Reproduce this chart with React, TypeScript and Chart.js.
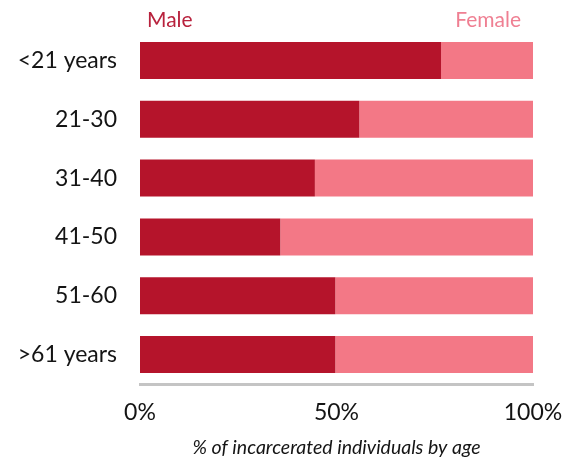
import React, { useEffect, useRef } from "react";
import { Chart, registerables } from "chart.js";

Chart.register(...registerables);

const categories = ["<21 years", "21-30", "31-40", "41-50", "51-60", ">61 years"];
const maleValues = [76.6, 55.8, 44.5, 35.7, 49.7, 49.7];
const femaleValues = [23.4, 44.2, 55.5, 64.3, 50.3, 50.3];
const xTickLabels: Record<number, string> = { 0: "0%", 50: "50%", 100: "100%" };
const seriesNames = ["Male", "Female"];
const axisTitle = "% of incarcerated individuals by age";

const MALE_COLOR = "#b5142b";
const FEMALE_COLOR = "#f37886";
const TEXT_COLOR = "#141414";
const FONT = "Lato, 'Open Sans', sans-serif";

const headerPlugin = {
  id: "header",
  afterDraw(chart: any) {
    const { ctx, chartArea } = chart;
    ctx.save();
    ctx.font = `21px ${FONT}`;
    ctx.textBaseline = "middle";
    ctx.fillStyle = "#b8223d";
    ctx.textAlign = "left";
    ctx.fillText(seriesNames[0], chartArea.left + 7, 20.5);
    ctx.fillStyle = "#ef7f92";
    ctx.textAlign = "right";
    ctx.fillText(seriesNames[1], chartArea.right - 12, 20.5);
    ctx.restore();
  },
};

export default function App() {
  const ref = useRef<HTMLCanvasElement>(null);
  useEffect(() => {
    if (!ref.current) return;
    const chart = new Chart(ref.current, {
      type: "bar",
      data: {
        labels: categories,
        datasets: [
          { label: seriesNames[0], data: maleValues, backgroundColor: MALE_COLOR, barPercentage: 0.63, categoryPercentage: 1 },
          { label: seriesNames[1], data: femaleValues, backgroundColor: FEMALE_COLOR, barPercentage: 0.63, categoryPercentage: 1 },
        ],
      },
      options: {
        indexAxis: "y",
        animation: false,
        responsive: false,
        layout: { padding: { top: 31, right: 32, bottom: 0, left: 0 } },
        plugins: { legend: { display: false }, tooltip: { enabled: false } },
        scales: {
          x: {
            stacked: true,
            min: 0,
            max: 100,
            grid: { display: false, drawTicks: false },
            border: { display: true, color: "#c4c4c4", width: 3 },
            ticks: {
              stepSize: 50,
              padding: 15,
              color: TEXT_COLOR,
              font: { family: FONT, size: 23 },
              callback: (v: any) => xTickLabels[Number(v)] ?? "",
            },
            title: {
              display: true,
              text: axisTitle,
              color: TEXT_COLOR,
              font: { family: FONT, size: 19.5, style: "italic" },
              padding: { top: 0, bottom: 2 },
            },
            afterFit: (s: any) => {
              s.height = 77;
              s.paddingLeft = 0;
              s.paddingRight = 0;
            },
          },
          y: {
            stacked: true,
            grid: { display: false, drawTicks: false },
            border: { display: false },
            ticks: {
              padding: 23,
              color: TEXT_COLOR,
              font: { family: FONT, size: 23 },
            },
            afterFit: (s: any) => {
              s.width = 140;
              s.paddingTop = 0;
              s.paddingBottom = 0;
            },
          },
        },
      },
      plugins: [headerPlugin],
    });
    return () => chart.destroy();
  }, []);
  return (
    <div style={{ position: "fixed", left: 0, top: 0, width: 565, height: 461, background: "#fff" }}>
      <canvas ref={ref} width={565} height={461} />
    </div>
  );
}
